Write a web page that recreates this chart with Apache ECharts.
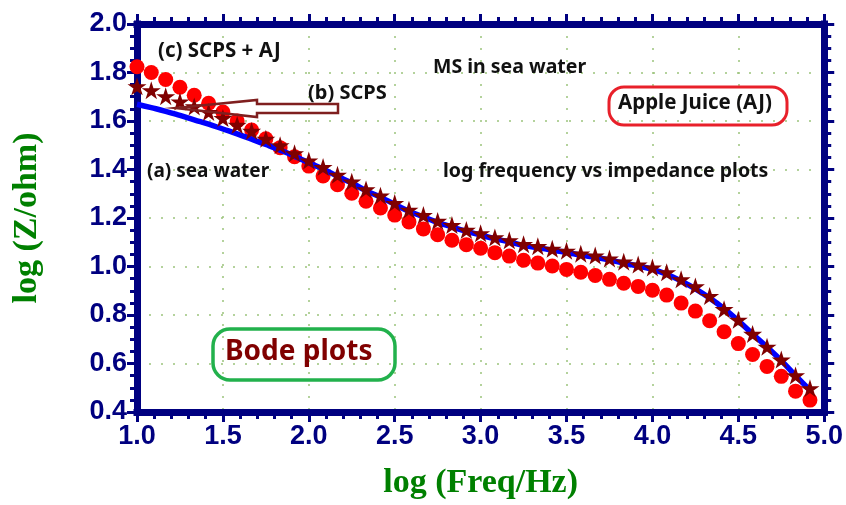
<!DOCTYPE html>
<html>
<head>
<meta charset="utf-8">
<script src="https://cdn.jsdelivr.net/npm/echarts@6/dist/echarts.min.js"></script>
<style>html,body{margin:0;padding:0;background:#fff;}#c{width:846px;height:505px;}</style>
</head>
<body>
<div id="c"></div>
<script>
// log(Freq/Hz) sample points
const logFreq = [1.000,1.083,1.167,1.250,1.333,1.417,1.500,1.583,1.667,1.750,1.833,1.917,
  2.000,2.083,2.167,2.250,2.333,2.417,2.500,2.583,2.667,2.750,2.833,2.917,
  3.000,3.083,3.167,3.250,3.333,3.417,3.500,3.583,3.667,3.750,3.833,3.917,
  4.000,4.083,4.167,4.250,4.333,4.417,4.500,4.583,4.667,4.750,4.833,4.917];
// (a) sea water
const seaWater = [1.669,1.655,1.640,1.623,1.605,1.587,1.567,1.547,1.525,1.503,1.480,1.455,
  1.428,1.402,1.372,1.344,1.313,1.286,1.256,1.228,1.205,1.182,1.163,1.145,
  1.130,1.114,1.102,1.087,1.078,1.067,1.058,1.047,1.038,1.027,1.014,1.002,
  0.988,0.968,0.940,0.908,0.870,0.826,0.776,0.722,0.668,0.612,0.550,0.490];
// (b) SCPS
const scps = [1.743,1.727,1.702,1.680,1.660,1.637,1.612,1.584,1.559,1.527,1.500,1.467,
  1.437,1.410,1.378,1.350,1.318,1.292,1.262,1.234,1.212,1.188,1.171,1.151,
  1.137,1.120,1.108,1.092,1.084,1.073,1.065,1.053,1.045,1.033,1.020,1.008,
  0.996,0.976,0.947,0.918,0.878,0.824,0.780,0.722,0.669,0.616,0.551,0.498];
// (c) SCPS + AJ
const scpsAJ = [1.824,1.800,1.771,1.739,1.706,1.673,1.637,1.600,1.563,1.527,1.490,1.453,
  1.414,1.373,1.337,1.302,1.269,1.241,1.212,1.184,1.155,1.131,1.108,1.090,
  1.075,1.057,1.043,1.026,1.014,1.002,0.988,0.976,0.963,0.947,0.931,0.918,
  0.902,0.882,0.849,0.816,0.776,0.731,0.682,0.637,0.588,0.547,0.486,0.449];

const xRange = {min: 1.0, max: 5.0, interval: 0.5};
const yRange = {min: 0.4, max: 2.0, interval: 0.2};
const xTitle = 'log (Freq/Hz)';
const yTitle = 'log (Z/ohm)';

const pair = (xs, ys) => xs.map((x, i) => [x, ys[i]]);
const NAVY = '#000080';
const STAR = 'path://M50,0 L61,35 L98,35 L68,57 L79,91 L50,70 L21,91 L32,57 L2,35 L39,35 Z';

function axisBase(showLabel, isX) {
  return {
    type: 'value',
    min: isX ? xRange.min : yRange.min,
    max: isX ? xRange.max : yRange.max,
    interval: isX ? xRange.interval : yRange.interval,
    axisLine: {show: true, onZero: false, lineStyle: {color: NAVY, width: 7, cap: 'square'}},
    axisTick: {show: true, inside: false, length: 10, lineStyle: {color: NAVY, width: 3}},
    minorTick: {show: true, splitNumber: isX ? 5 : 4, length: 7, lineStyle: {color: NAVY, width: 3}},
    axisLabel: {
      show: showLabel, margin: isX ? 11 : 10,
      color: NAVY, fontFamily: 'Liberation Sans', fontWeight: 'bold', fontSize: 27,
      formatter: v => v.toFixed(1)
    },
    splitLine: {show: false},
    minorSplitLine: {show: false}
  };
}

const xBottom = Object.assign(axisBase(true, true), {
  position: 'bottom', name: xTitle, nameLocation: 'middle', nameGap: 54,
  nameTextStyle: {color: '#008000', fontFamily: 'Liberation Serif', fontWeight: 'bold', fontSize: 34},
  splitLine: {show: true, lineStyle: {color: '#9cc47c', width: 1.5, type: [2, 10]}}
});
const xTop = Object.assign(axisBase(false, true), {position: 'top'});
const yLeft = Object.assign(axisBase(true, false), {
  position: 'left', name: yTitle, nameLocation: 'middle', nameGap: 93,
  nameTextStyle: {color: '#008000', fontFamily: 'Liberation Serif', fontWeight: 'bold', fontSize: 34},
  splitLine: {show: true, lineStyle: {color: '#9cc47c', width: 1.5, type: [2, 10]}}
});
const yRight = Object.assign(axisBase(false, false), {position: 'right'});

const note = (x, cy, text, size, color) => ({
  type: 'text', x: x, y: cy, z: 100,
  style: {text: text, fill: color || '#111', font: 'bold ' + size + 'px "Noto Sans"', align: 'left', verticalAlign: 'middle'}
});

const chart = echarts.init(document.getElementById('c'), null, {renderer: 'canvas'});
chart.setOption({
  animation: false,
  backgroundColor: '#fff',
  grid: {left: 137, right: 21, top: 24, bottom: 89, containLabel: false},
  xAxis: [xBottom, xTop],
  yAxis: [yLeft, yRight],
  series: [
    {name: '(c) SCPS + AJ', type: 'scatter', data: pair(logFreq, scpsAJ), symbol: 'circle', symbolSize: 15,
     itemStyle: {color: '#ff0000', opacity: 1}, z: 2},
    {name: '(a) sea water', type: 'line', data: pair(logFreq, seaWater), smooth: true, showSymbol: false, symbol: 'none',
     lineStyle: {color: '#0000ff', width: 5.5}, z: 3},
    {name: '(b) SCPS', type: 'scatter', data: pair(logFreq, scps), symbol: STAR, symbolSize: [19, 18],
     itemStyle: {color: '#800000', opacity: 1}, z: 4}
  ],
  graphic: [
    {type: 'rect', shape: {x: 609, y: 87, width: 178, height: 38, r: 15}, style: {fill: 'none', stroke: '#e8202a', lineWidth: 3}, z: 100},
    {type: 'rect', shape: {x: 213, y: 329, width: 182, height: 51, r: 17}, style: {fill: 'none', stroke: '#22b14c', lineWidth: 3.5}, z: 100},
    {type: 'polygon', shape: {points: [[176,108],[257,100],[257,104],[338,104],[338,113],[257,113],[257,117]]},
     style: {fill: 'none', stroke: '#7f1f1f', lineWidth: 2.5}, z: 100},
    note(158, 51, '(c) SCPS + AJ', 20.5),
    note(308, 93, '(b) SCPS', 20),
    note(433, 67, 'MS in sea water', 19.5),
    note(618, 103, 'Apple Juice (AJ)', 20.5),
    note(443, 171, 'log frequency vs impedance plots', 19.5),
    note(147, 172, '(a) sea water', 19),
    note(225, 352, 'Bode plots', 28, '#800000')
  ]
});
</script>
</body>
</html>
